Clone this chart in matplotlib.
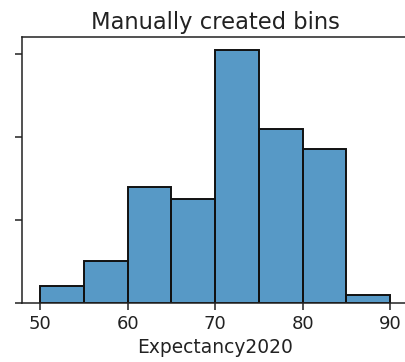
import matplotlib
matplotlib.use("Agg")
import matplotlib.pyplot as plt
import numpy as np

# Life expectancy (2020) histogram with hand-picked 5-year bins
bin_edges = [50, 55, 60, 65, 70, 75, 80, 85, 90]
counts = [4, 10, 28, 25, 61, 42, 37, 2]
x_ticks = [50, 60, 70, 80, 90]
y_ticks = [0, 20, 40, 60]

fig = plt.figure(figsize=(4.06, 3.62), dpi=100)
ax = fig.add_axes([0.0534, 0.163, 0.953, 0.735])

lefts = np.array(bin_edges[:-1])
widths = np.diff(bin_edges)
ax.bar(lefts, counts, width=widths, align="edge",
       color="#1f77b4", alpha=0.75, edgecolor="none")
ax.bar(lefts, counts, width=widths, align="edge",
       facecolor="none", edgecolor="#111111", linewidth=1.4)

ax.set_xlim(47.9, 92.1)
ax.set_ylim(0, max(counts) * 1.05)
ax.set_xticks(x_ticks)
ax.set_yticks(y_ticks)
ax.set_yticklabels([])
ax.tick_params(axis="both", labelsize=13, length=5, width=1.1, colors="#222222")
for s in ax.spines.values():
    s.set_linewidth(1.1)
    s.set_color("#222222")

ax.set_xlabel("Expectancy2020", fontsize=13.4, color="#222222", labelpad=4)
ax.set_title("Manually created bins", fontsize=16.3, color="#222222", pad=6)

fig.savefig("out.png", dpi=100)
